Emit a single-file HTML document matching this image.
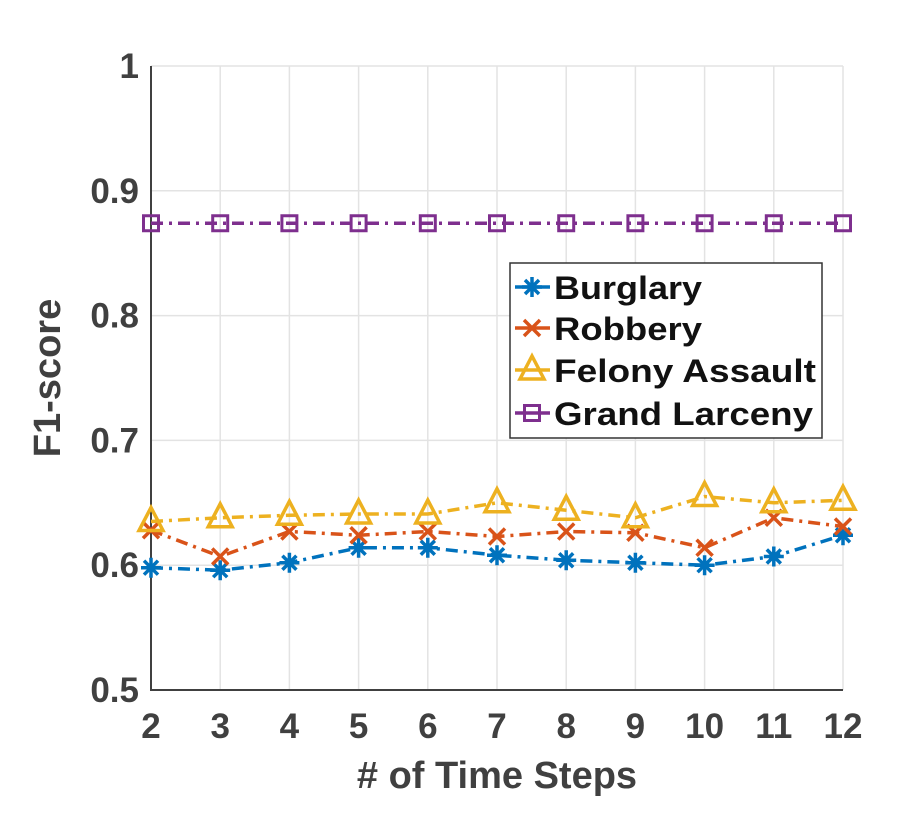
<!DOCTYPE html>
<html><head><meta charset="utf-8"><style>
body{margin:0;background:#fff}
svg text{font-family:"Liberation Sans",sans-serif;font-weight:bold}
</style></head><body>
<svg id="chart" width="903" height="813" xmlns="http://www.w3.org/2000/svg">
<g id="grid"></g><g id="axes"></g><g id="series"></g><g id="legend"></g>
</svg>
<script>
const steps=[2,3,4,5,6,7,8,9,10,11,12];
const burglary=[0.598,0.596,0.602,0.614,0.614,0.608,0.604,0.602,0.600,0.607,0.624];
const robbery=[0.628,0.607,0.627,0.624,0.627,0.623,0.627,0.626,0.614,0.638,0.631];
const felony=[0.635,0.638,0.640,0.641,0.641,0.650,0.644,0.638,0.655,0.650,0.652];
const larceny=[0.874,0.874,0.874,0.874,0.874,0.874,0.874,0.874,0.874,0.874,0.874];
const yTicks=[0.5,0.6,0.7,0.8,0.9,1];
const yTickLabels=["0.5","0.6","0.7","0.8","0.9","1"];
const seriesNames=["Burglary","Robbery","Felony Assault","Grand Larceny"];
const NS="http://www.w3.org/2000/svg";
const X0=151,X1=843,Y0=690,Y1=66;
const xs=v=>X0+(v-2)/(12-2)*(X1-X0);
const ys=v=>Y0-(v-0.5)/(1-0.5)*(Y0-Y1);
function mk(tag,attrs,parent){const e=document.createElementNS(NS,tag);for(const k in attrs)e.setAttribute(k,attrs[k]);parent.appendChild(e);return e;}
const grid=document.getElementById('grid'),axes=document.getElementById('axes'),ser=document.getElementById('series'),leg=document.getElementById('legend');
steps.forEach(s=>{const l=mk('line',{x1:xs(s),x2:xs(s),y1:Y1,y2:Y0,stroke:'#e3e3e3','stroke-width':1.5},grid);

const t=mk('text',{x:xs(s),y:738,'text-anchor':'middle','font-size':35,fill:'#404040'},axes);t.textContent=s;
});
yTicks.forEach((v,i)=>{const l=mk('line',{x1:X0,x2:X1,y1:ys(v),y2:ys(v),stroke:'#e3e3e3','stroke-width':1.5},grid);

const t=mk('text',{x:139,y:ys(v)+12,'text-anchor':'end','font-size':35,fill:'#404040'},axes);t.textContent=yTickLabels[i];
});
const ax=mk('path',{d:`M${X0} ${Y1}V${Y0}H${X1}`,fill:'none',stroke:'#404040','stroke-width':2},axes);

const xt=mk('text',{x:497,y:788,'text-anchor':'middle','font-size':38,fill:'#404040'},axes);xt.textContent='# of Time Steps';

const yt=mk('text',{x:0,y:0,'text-anchor':'middle','font-size':38,fill:'#404040',transform:'translate(60,378) rotate(-90)'},axes);yt.textContent='F1-score';

function marker(type,x,y,c,g){
 if(type==='star'){mk('path',{d:`M${x-10} ${y}H${x+10}M${x} ${y-10}V${y+10}M${x-7} ${y-7}L${x+7} ${y+7}M${x-7} ${y+7}L${x+7} ${y-7}`,stroke:c,'stroke-width':3.5},g);}
 else if(type==='x'){mk('path',{d:`M${x-8} ${y-8}L${x+8} ${y+8}M${x-8} ${y+8}L${x+8} ${y-8}`,stroke:c,'stroke-width':3.5},g);}
 else if(type==='tri'){mk('path',{d:`M${x} ${y-14}L${x+12} ${y+9}H${x-12}Z`,fill:'none',stroke:c,'stroke-width':3.5},g);}
 else {mk('rect',{x:x-7.5,y:y-7.5,width:15,height:15,fill:'none',stroke:c,'stroke-width':3},g);}
}
const defs=[[burglary,'#0072BD','star'],[robbery,'#D95319','x'],[felony,'#EDB120','tri'],[larceny,'#7E2F8E','sq']];
defs.forEach(([data,c,m],i)=>{const g=mk('g',{},ser);
 
 mk('polyline',{points:data.map((v,j)=>xs(steps[j])+','+ys(v)).join(' '),fill:'none',stroke:c,'stroke-width':3.5,'stroke-dasharray':'12 6 3 6'},g);
 data.forEach((v,j)=>marker(m,xs(steps[j]),ys(v),c,g));});
const lb=mk('rect',{x:510,y:263,width:312,height:175,fill:'#fff',stroke:'#333','stroke-width':1.5},leg);

const rows=[287,328,370,413];
defs.forEach(([d,c,m],i)=>{const g=mk('g',{},leg);
 
 mk('line',{x1:515,x2:550,y1:rows[i],y2:rows[i],stroke:c,'stroke-width':3.5},g);
 marker(m,532,rows[i],c,g);
 const t=mk('text',{x:554,y:rows[i]+12,'font-size':32,fill:'#111',textLength:seriesNames[i].length*0+[148,148,262,259][i],lengthAdjust:'spacingAndGlyphs'},g);t.textContent=seriesNames[i];});
</script>
</body></html>
